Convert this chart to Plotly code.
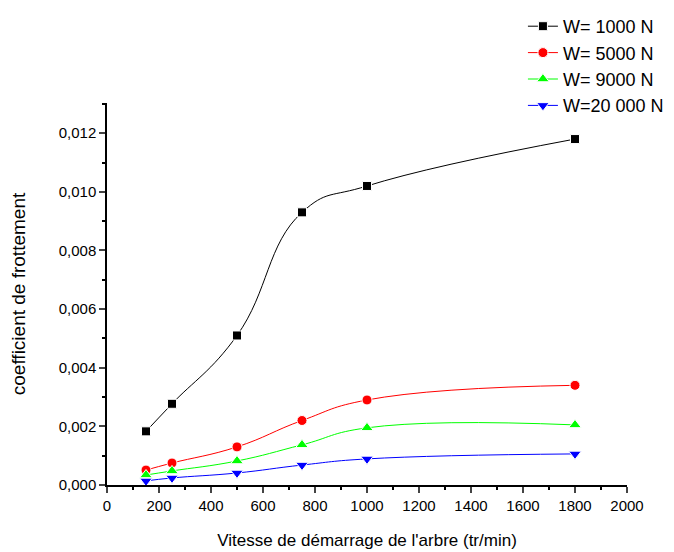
import plotly.graph_objects as go

vitesse = [150, 250, 500, 750, 1000, 1800]
w1000 = [0.00183, 0.00277, 0.0051, 0.0093, 0.0102, 0.0118]
w5000 = [0.00051, 0.00075, 0.0013, 0.0022, 0.0029, 0.0034]
w9000 = [0.00034, 0.00048, 0.00082, 0.00137, 0.00195, 0.00205]
w20000 = [0.00014, 0.00024, 0.00041, 0.00068, 0.00089, 0.00106]

series_names = ["W= 1000 N", "W= 5000 N", "W= 9000 N", "W=20 000 N"]
x_ticks = [0, 200, 400, 600, 800, 1000, 1200, 1400, 1600, 1800, 2000]
y_ticks = [0, 0.002, 0.004, 0.006, 0.008, 0.010, 0.012]
y_ticktext = ["0,000", "0,002", "0,004", "0,006", "0,008", "0,010", "0,012"]

colors = ["#000000", "#ff0000", "#00ff00", "#0000ff"]
symbols = ["square", "circle", "triangle-up", "triangle-down"]
sizes = [9, 10, 11, 11]

fig = go.Figure()
for name, ys, c, s, sz in zip(series_names, [w1000, w5000, w9000, w20000], colors, symbols, sizes):
    fig.add_trace(go.Scatter(
        x=vitesse, y=ys, name=name, mode="lines+markers",
        line=dict(color=c, width=1, shape="spline", smoothing=1.3),
        marker=dict(symbol=s, size=sz, color=c, line=dict(color="white", width=1)),
    ))

font = "Liberation Sans, Arial, sans-serif"
fig.update_layout(
    width=674, height=552,
    margin=dict(l=99, r=55, t=95, b=75, autoexpand=False),
    paper_bgcolor="white", plot_bgcolor="white",
    font=dict(family=font, color="black", size=14),
    legend=dict(xref="container", yref="container", x=0.764, y=1.007,
                xanchor="left", yanchor="top",
                font=dict(size=18), bgcolor="rgba(0,0,0,0)"),
    xaxis=dict(
        automargin=False,
        range=[0, 2000], tickvals=x_ticks, ticks="outside", ticklen=6, tickwidth=1.5,
        showline=True, linecolor="black", linewidth=1.5, showgrid=False, zeroline=False,
        minor=dict(dtick=100, tick0=0, ticks="outside", ticklen=3, tickwidth=1.5, tickcolor="black"),
        title=dict(text="Vitesse de démarrage de l'arbre (tr/min)", font=dict(size=17), standoff=21),
        tickfont=dict(size=15),
    ),
    yaxis=dict(
        automargin=False,
        range=[0, 0.01303], tickvals=y_ticks, ticktext=y_ticktext, ticks="outside", ticklen=6, tickwidth=1.5,
        showline=True, linecolor="black", linewidth=1.5, showgrid=False, zeroline=False,
        minor=dict(dtick=0.001, tick0=0, ticks="outside", ticklen=3, tickwidth=1.5, tickcolor="black"),
        title=dict(text="coefficient de frottement", font=dict(size=19), standoff=28),
        tickfont=dict(size=15),
    ),
)

fig.write_html("out.html")
